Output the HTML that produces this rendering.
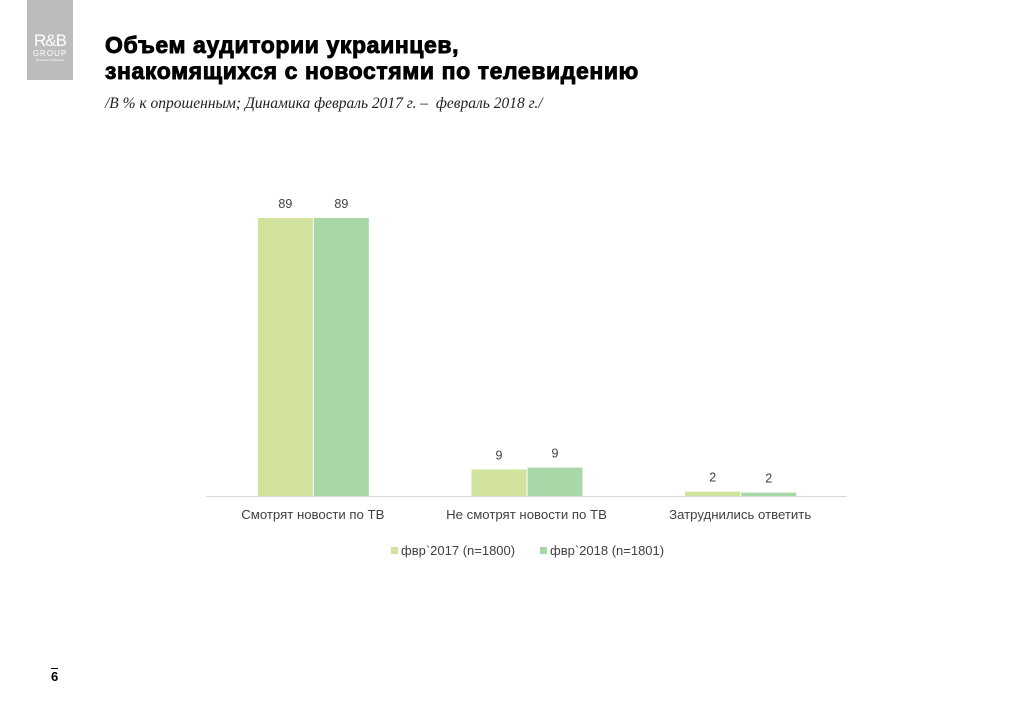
<!DOCTYPE html>
<html><head><meta charset="utf-8"><style>
body{margin:0;width:1024px;height:709px;background:#fff;position:relative;overflow:hidden;font-family:"Liberation Sans",sans-serif}
.abs{position:absolute}
</style></head><body>
<div class="abs" style="left:27px;top:0;width:46px;height:80px;background:#bcbcbc;color:#fff;text-align:center">
<div style="margin-top:32px;font-size:17px;line-height:17px;letter-spacing:-1px">R&amp;B</div>
<div style="font-size:8px;letter-spacing:1px;line-height:9px">GROUP</div>
<div style="font-size:3px;line-height:4px">Research &amp; Branding</div></div>
<div class="abs" style="left:105px;top:32px;font-size:23px;letter-spacing:0.6px;font-weight:bold;line-height:26px;color:#000;-webkit-text-stroke:0.9px #000">Объем аудитории украинцев,<br>знакомящихся с новостями по телевидению</div>
<div class="abs" style="left:105px;top:95px;font-family:'Liberation Serif',serif;font-style:italic;font-size:15.5px;color:#222">/В % к опрошенным; Динамика февраль 2017 г. –&nbsp; февраль 2018 г./</div>
<div class="abs" style="left:51px;top:668px;font-size:13px;font-weight:bold;border-top:1px solid #000;line-height:16px">6</div>
<svg id="chart" class="abs" style="left:0;top:0" width="1024" height="709"></svg>
<script>
const categories=["Смотрят новости по ТВ","Не смотрят новости по ТВ","Затруднились ответить"];
const series2017=[89,8.5,1.4];
const series2018=[89,9.1,1.1];
const labels2017=["89","9","2"];
const labels2018=["89","9","2"];
const seriesNames=["фвр`2017 (n=1800)","фвр`2018 (n=1801)"];
const colors=["#d0e29c","#a9d8a8"];
const svg=document.getElementById('chart');const NS='http://www.w3.org/2000/svg';
const x0=206,x1=847,base=496,scale=278/89;
const gw=(x1-x0)/categories.length;
const y=v=>base-v*scale;
function mk(t,a,txt){const e=document.createElementNS(NS,t);for(const k in a)e.setAttribute(k,a[k]);if(txt!=null)e.textContent=txt;svg.appendChild(e);return e;}
const ax=mk('line',{x1:x0,x2:x1,y1:base+0.5,y2:base+0.5,stroke:'#d9d9d9','stroke-width':1});


[series2017,series2018].forEach((s,si)=>{
 const lab=si?labels2018:labels2017;
 s.forEach((v,i)=>{
  const cx=x0+gw*(i+0.5);const bx=cx-55+si*56;
  const r=mk('rect',{x:bx,y:y(v),width:55,height:base-y(v),fill:colors[si]});
  
  
  const t=mk('text',{x:bx+27.5,y:y(v)-10,'text-anchor':'middle','font-size':12.5,fill:'#404040'},lab[i]);
  
  
 });
});
categories.forEach((c,i)=>{
 const t=mk('text',{x:x0+gw*(i+0.5),y:519,'text-anchor':'middle','font-size':13.2,fill:'#404040'},c);
 
 
});
const lx=[391,540];
seriesNames.forEach((n,i)=>{
 const r=mk('rect',{x:lx[i],y:547,width:7,height:7,fill:colors[i]});
 
 
 const t=mk('text',{x:lx[i]+10,y:555,'font-size':13,fill:'#404040'},n);
 
 
});
</script>
</body></html>
